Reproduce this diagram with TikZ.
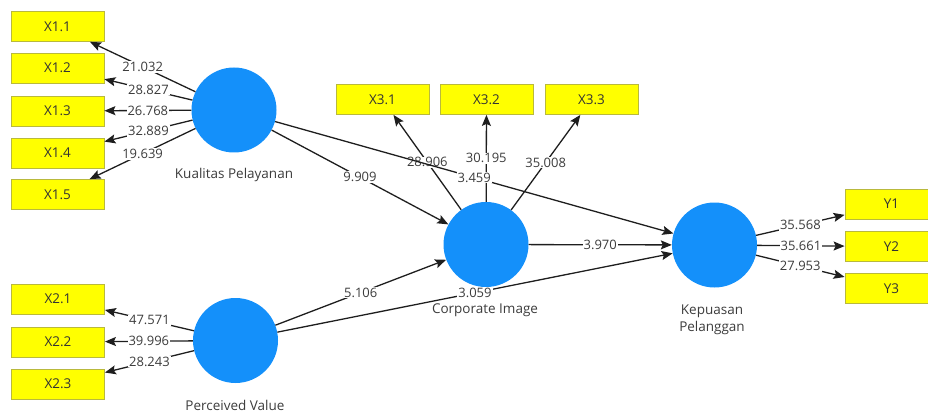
\documentclass[tikz,border=0pt]{standalone}
\usepackage{fontspec}
\setmainfont{Open Sans}
\usetikzlibrary{arrows.meta}
\definecolor{lvblue}{RGB}{20,144,250}
\definecolor{indfill}{RGB}{255,255,0}
\definecolor{indedge}{RGB}{185,185,60}
\definecolor{txt}{RGB}{60,60,60}
\definecolor{edge}{RGB}{30,30,30}
\tikzset{
  latent/.style={circle, fill=lvblue, draw=none, minimum size=85pt, inner sep=0pt},
  ind/.style={rectangle, fill=indfill, draw=indedge, line width=0.8pt,
              minimum width=93pt, minimum height=30pt, inner sep=0pt,
              font=\fontsize{13.5}{13.5}\selectfont, text=black!80},
  lvname/.style={font=\fontsize{13.5}{17}\selectfont, text=txt, align=center},
  coef/.style={fill=white, inner sep=1pt, font=\fontsize{13}{13}\selectfont, text=txt},
  path/.style={draw=edge, line width=1.3pt, -{Stealth[length=11pt,width=9pt,inset=2pt]}}
}
\begin{document}
\begin{tikzpicture}[x=1pt,y=-1pt]
\useasboundingbox (0,0) rectangle (928,414);

% latent variables
\node[latent] (kp) at (234,110) {};
\node[latent] (pv) at (235.5,340.5) {};
\node[latent] (ci) at (486,244.5) {};
\node[latent] (kep) at (714.5,245) {};

\node[lvname] (kpl) at (234,175) {Kualitas Pelayanan};
\node[lvname] (pvl) at (235,405) {Perceived Value};
\node[lvname] (cil) at (485,310) {Corporate Image};
\node[lvname] (kepl) at (712,320) {Kepuasan\\Pelanggan};

% indicators of Kualitas Pelayanan
\node[ind] (x11) at (57.5,26.5) {X1.1};
\node[ind] (x12) at (57.5,68) {X1.2};
\node[ind] (x13) at (57.5,111) {X1.3};
\node[ind] (x14) at (57.5,153) {X1.4};
\node[ind] (x15) at (57.5,194.5) {X1.5};

% indicators of Perceived Value
\node[ind] (x21) at (58,299) {X2.1};
\node[ind] (x22) at (58,342) {X2.2};
\node[ind] (x23) at (58,384) {X2.3};

% indicators of Corporate Image
\node[ind] (x31) at (382.5,99.5) {X3.1};
\node[ind] (x32) at (486.5,99.5) {X3.2};
\node[ind] (x33) at (591.5,99.5) {X3.3};

% indicators of Kepuasan Pelanggan
\node[ind] (y1) at (891.5,204) {Y1};
\node[ind] (y2) at (891.5,246.5) {Y2};
\node[ind] (y3) at (891.5,288.5) {Y3};

% structural paths
\draw[path] (kp) -- node[coef] (c1) {9.909} (ci);
\draw[path] (pv) -- node[coef] (c2) {5.106} (ci);
\draw[path] (ci) -- node[coef] (c3) {3.970} (kep);
\draw[path] (pv) -- node[coef] (c4) {3.059} (kep);

% outer loadings
\draw[path] (kp) -- node[coef] (l11) {21.032} (x11);
\draw[path] (kp) -- node[coef] (l12) {28.827} (x12);
\draw[path] (kp) -- node[coef] (l13) {26.768} (x13);
\draw[path] (kp) -- node[coef] (l14) {32.889} (x14);
\draw[path] (kp) -- node[coef] (l15) {19.639} (x15);

\draw[path] (pv) -- node[coef] (l21) {47.571} (x21);
\draw[path] (pv) -- node[coef] (l22) {39.996} (x22);
\draw[path] (pv) -- node[coef] (l23) {28.243} (x23);

\draw[path] (ci) -- node[coef] (l31) {28.906} (x31);
\draw[path] (ci) -- node[coef] (l32) {30.195} (x32);
\draw[path] (ci) -- node[coef] (l33) {35.008} (x33);

\draw[path] (kep) -- node[coef] (ly1) {35.568} (y1);
\draw[path] (kep) -- node[coef] (ly2) {35.661} (y2);
\draw[path] (kep) -- node[coef] (ly3) {27.953} (y3);

\draw[path] (kp) -- node[coef] (c5) {3.459} (kep);
\end{tikzpicture}
\end{document}
